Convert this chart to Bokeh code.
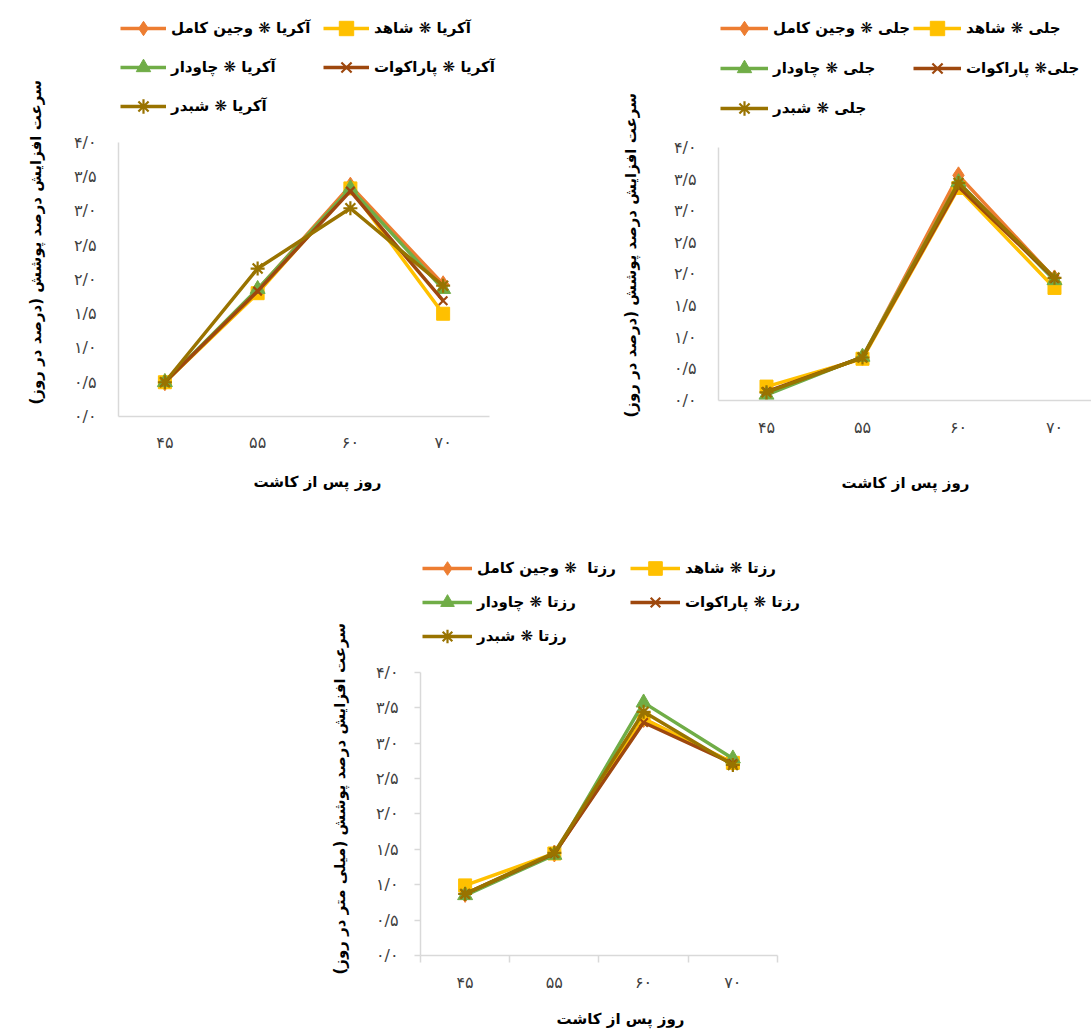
from bokeh.plotting import figure
from bokeh.models import Range1d, FixedTicker, Legend, LegendItem, Title, Spacer
from bokeh.layouts import column, row
from bokeh.embed import file_html
from bokeh.resources import INLINE

# ---------------- data ----------------
days = ["۴۵", "۵۵", "۶۰", "۷۰"]
y_ticks = [0.0, 0.5, 1.0, 1.5, 2.0, 2.5, 3.0, 3.5, 4.0]
y_tick_labels = ["۰/۰", "۰/۵", "۱/۰", "۱/۵", "۲/۰", "۲/۵", "۳/۰", "۳/۵", "۴/۰"]

treatments = ["وجین کامل", "شاهد", "چاودار", "پاراکوات", "شبدر"]

# Panel 1: آکریا
akria_vejin = [0.50, 1.85, 3.37, 1.93]
akria_shahed = [0.50, 1.80, 3.33, 1.50]
akria_chavdar = [0.50, 1.86, 3.33, 1.86]
akria_parakavat = [0.50, 1.83, 3.29, 1.69]
akria_shabdar = [0.50, 2.16, 3.04, 1.91]
akria_labels = ["آکریا ❋ وجین کامل", "آکریا ❋ شاهد", "آکریا ❋ چاودار",
                "آکریا ❋ پاراکوات", "آکریا ❋ شبدر"]

# Panel 2: جلی
jeli_vejin = [0.13, 0.68, 3.56, 1.93]
jeli_shahed = [0.22, 0.66, 3.36, 1.78]
jeli_chavdar = [0.09, 0.69, 3.45, 1.90]
jeli_parakavat = [0.14, 0.68, 3.38, 1.93]
jeli_shabdar = [0.13, 0.68, 3.44, 1.94]
jeli_labels = ["جلی ❋ وجین کامل", "جلی ❋ شاهد", "جلی ❋ چاودار",
               "جلی❋ پاراکوات", "جلی ❋ شبدر"]

# Panel 3: رزتا
rozeta_vejin = [0.87, 1.44, 3.34, 2.72]
rozeta_shahed = [0.99, 1.44, 3.34, 2.72]
rozeta_chavdar = [0.85, 1.42, 3.57, 2.78]
rozeta_parakavat = [0.87, 1.44, 3.29, 2.71]
rozeta_shabdar = [0.87, 1.45, 3.44, 2.69]
rozeta_labels = ["رزتا  ❋ وجین کامل", "رزتا ❋ شاهد", "رزتا ❋ چاودار",
                 "رزتا ❋ پاراکوات", "رزتا ❋ شبدر"]

x_title_1 = "روز  پس از کاشت"
x_title_2 = "روز پس از کاشت"
y_title_pct = "سرعت افزایش درصد پوشش (درصد در روز)"
y_title_mm = "سرعت افزایش درصد پوشش (میلی متر در روز)"

# ---------------- style ----------------
colors = ["#ED7D31", "#FFC000", "#70AD47", "#9E480E", "#997300"]
markers = ["diamond", "square", "triangle", "x", "asterisk"]
msizes = [17, 13, 15, 12, 14]
FONT = "DejaVu Sans"
AXIS_COLOR = "#D9D9D9"
RLM = "\u200f"

x_idx = list(range(len(days)))


def make_panel(series, labels, x_title, y_title, x_end, y_end, fw, fh,
               bl, bt, br, bb, ticks_p3, yt_offset, yt_standoff,
               leg1_loc, leg2_loc, leg_gh, leg_spacing, glyph_w,
               x_std, x_title_std, y_std):
    p = figure(width=bl + fw + br, height=bt + fh + bb,
               frame_width=fw, frame_height=fh,
               min_border_left=bl, min_border_top=bt,
               min_border_right=br, min_border_bottom=bb,
               x_range=Range1d(-0.5, x_end), y_range=Range1d(0, y_end),
               output_backend="svg", toolbar_location=None,
               background_fill_color="white", border_fill_color="white")
    p.outline_line_color = None
    p.grid.visible = False

    # x axis
    xa = p.xaxis[0]
    xa.bounds = (-0.5, len(days) - 0.5)
    xa.ticker = FixedTicker(ticks=x_idx,
                            minor_ticks=[i - 0.5 for i in range(len(days) + 1)])
    xa.major_label_overrides = {i: d for i, d in zip(x_idx, days)}
    xa.axis_line_color = AXIS_COLOR
    xa.axis_line_width = 1.5
    xa.major_tick_line_color = None
    xa.major_tick_out = 0
    xa.major_tick_in = 0
    if ticks_p3:
        xa.minor_tick_line_color = AXIS_COLOR
        xa.minor_tick_line_width = 1.5
        xa.minor_tick_out = 7
        xa.minor_tick_in = 0
    else:
        xa.minor_tick_line_color = None
    xa.major_label_text_font = FONT
    xa.major_label_text_font_size = "16px"
    xa.major_label_text_color = "#404040"
    xa.major_label_standoff = x_std
    xa.axis_label = x_title
    xa.axis_label_text_font = FONT
    xa.axis_label_text_font_size = "15px"
    xa.axis_label_text_font_style = "bold"
    xa.axis_label_text_color = "#000000"
    xa.axis_label_standoff = x_title_std

    # y axis
    ya = p.yaxis[0]
    ya.bounds = (y_ticks[0], y_ticks[-1])
    ya.ticker = FixedTicker(ticks=y_ticks)
    ya.major_label_overrides = {t: l for t, l in zip(y_ticks, y_tick_labels)}
    ya.axis_line_color = AXIS_COLOR
    ya.axis_line_width = 1.5
    ya.minor_tick_line_color = None
    if ticks_p3:
        ya.major_tick_line_color = AXIS_COLOR
        ya.major_tick_line_width = 1.5
        ya.major_tick_out = 6
        ya.major_tick_in = 0
    else:
        ya.major_tick_line_color = None
        ya.major_tick_out = 0
        ya.major_tick_in = 0
    ya.major_label_text_font = FONT
    ya.major_label_text_font_size = "16px"
    ya.major_label_text_color = "#404040"
    ya.major_label_standoff = y_std

    items = []
    for vals, lab, c, m, s in zip(series, labels, colors, markers, msizes):
        lr = p.line(x_idx, vals, line_color=c, line_width=3.5, line_join="round")
        if m in ("x", "asterisk"):
            sr = p.scatter(x_idx, vals, marker=m, size=s, line_color=c,
                           line_width=2.2)
        else:
            sr = p.scatter(x_idx, vals, marker=m, size=s, fill_color=c,
                           line_color=c, line_width=1)
        items.append(LegendItem(label=lab, renderers=[lr, sr]))

    common = dict(orientation="vertical",
                  glyph_width=glyph_w, glyph_height=leg_gh, label_height=leg_gh,
                  label_standoff=5, spacing=leg_spacing, padding=0, margin=0,
                  border_line_color=None, background_fill_alpha=0,
                  label_text_font=FONT, label_text_font_size="15px",
                  label_text_font_style="bold", label_text_color="#000000")
    p.add_layout(Legend(items=[items[0], items[2], items[4]], location=leg1_loc, **common))
    p.add_layout(Legend(items=[items[1], items[3]], location=leg2_loc, **common))

    p.add_layout(Title(text=RLM + y_title + RLM, align="left",
                       offset=yt_offset, standoff=yt_standoff,
                       vertical_align="middle",
                       text_font=FONT, text_font_size="15px",
                       text_font_style="bold", text_color="#000000"), "left")
    return p


p1 = make_panel([akria_vejin, akria_shahed, akria_chavdar, akria_parakavat, akria_shabdar],
                akria_labels, x_title_1, y_title_pct, 3.845, 5.927,
                fw=403, fh=406, bl=117, bt=10, br=40, bb=94, ticks_p3=False,
                yt_offset=12, yt_standoff=50,
                leg1_loc=(2, 292), leg2_loc=(205, 331), leg_gh=36, leg_spacing=3,
                glyph_w=46, x_std=12, x_title_std=18, y_std=22)

p2 = make_panel([jeli_vejin, jeli_shahed, jeli_chavdar, jeli_parakavat, jeli_shabdar],
                jeli_labels, x_title_2, y_title_pct, 3.396, 6.166,
                fw=374, fh=390, bl=157, bt=10, br=0, bb=110, ticks_p3=False,
                yt_offset=-17, yt_standoff=60,
                leg1_loc=(2, 274), leg2_loc=(195, 314), leg_gh=36, leg_spacing=4,
                glyph_w=48, x_std=13, x_title_std=34, y_std=22)

p3 = make_panel([rozeta_vejin, rozeta_shahed, rozeta_chavdar, rozeta_parakavat, rozeta_shabdar],
                rozeta_labels, x_title_2, y_title_mm, 3.982, 5.718,
                fw=400, fh=405, bl=120, bt=40, br=60, bb=78, ticks_p3=True,
                yt_offset=-19, yt_standoff=46,
                leg1_loc=(2, 302), leg2_loc=(210, 336), leg_gh=34, leg_spacing=0,
                glyph_w=50, x_std=10, x_title_std=15, y_std=16)

layout = column(row(p1, p2), row(Spacer(width=300, height=523), p3))

open("out.html", "w").write(file_html(layout, INLINE))
